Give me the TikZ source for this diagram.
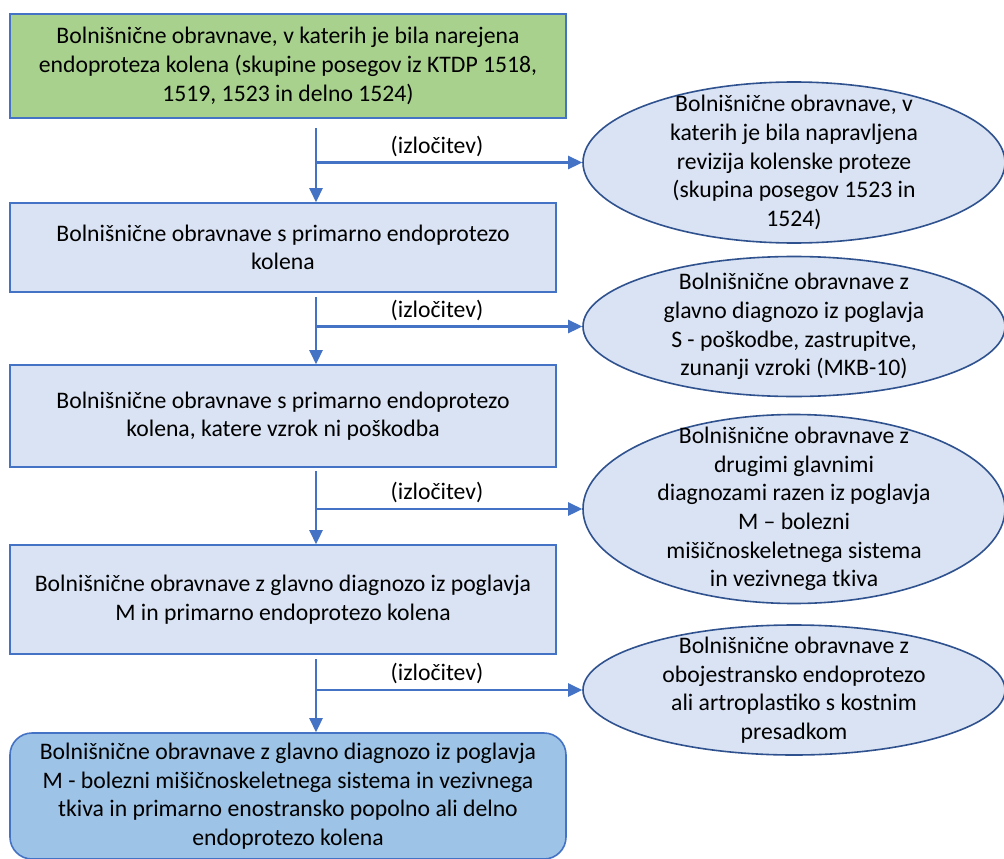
\documentclass[tikz,border=0pt]{standalone}
\usepackage{fontspec}
\setmainfont{Carlito}
\usetikzlibrary{shapes.geometric,arrows.meta}
\definecolor{accent}{HTML}{4472C4}
\definecolor{darkacc}{HTML}{2F528F}
\definecolor{boxfill}{HTML}{DAE3F3}
\definecolor{greenfill}{HTML}{A9D18E}
\definecolor{endfill}{HTML}{9DC3E6}
\tikzset{
  txt/.style={font=\fontsize{23.7}{28.6}\selectfont, align=center, text=black},
  stepbox/.style={draw=accent, line width=1.6pt, fill=boxfill, rectangle, inner sep=0pt, txt},
  ell/.style={draw=darkacc, line width=1.6pt, fill=boxfill, ellipse, inner sep=0pt, minimum width=422pt},
  arr/.style={draw=accent, line width=2.6pt, -{Triangle[length=14pt,width=13pt]}},
  lbl/.style={txt, inner sep=0pt}
}
\begin{document}
\begin{tikzpicture}[x=1pt,y=-1pt]
\useasboundingbox (0,0) rectangle (1004,859);
\fill[white] (0,0) rectangle (1004,859);

% boxes
\node[stepbox, fill=greenfill, minimum width=556pt, minimum height=104pt] (b1) at (288,66)
  {Bolnišnične obravnave, v katerih je bila narejena\\endoproteza kolena (skupine posegov iz KTDP 1518,\\1519, 1523 in delno 1524)};
\node[stepbox, minimum width=546pt, minimum height=89pt] (b2) at (283,247.5)
  {Bolnišnične obravnave s primarno endoprotezo\\kolena};
\node[stepbox, minimum width=546pt, minimum height=102pt] (b3) at (283,416)
  {Bolnišnične obravnave s primarno endoprotezo\\kolena, katere vzrok ni poškodba};
\node[stepbox, minimum width=546pt, minimum height=109pt] (b4) at (283,599.5)
  {Bolnišnične obravnave z glavno diagnozo iz poglavja\\M in primarno endoprotezo kolena};
\node[stepbox, fill=endfill, rounded corners=22pt, minimum width=556pt, minimum height=126pt] (b5) at (288,796)
  {Bolnišnične obravnave z glavno diagnozo iz poglavja\\M - bolezni mišičnoskeletnega sistema in vezivnega\\tkiva in primarno enostransko popolno ali delno\\endoprotezo kolena};

% ellipses
\node[ell, minimum height=161pt] (e1) at (794,162.5) {};
\node[lbl] at (e1.center) {Bolnišnične obravnave, v\\katerih je bila napravljena\\revizija kolenske proteze\\(skupina posegov 1523 in\\1524)};
\node[ell, minimum height=140pt] (e2) at (794,326.5) {};
\node[lbl] at (e2.center) {Bolnišnične obravnave z\\glavno diagnozo iz poglavja\\S - poškodbe, zastrupitve,\\zunanji vzroki (MKB-10)};
\node[ell, minimum height=189pt] (e3) at (794,509) {};
\node[lbl] at (e3.center) {Bolnišnične obravnave z\\drugimi glavnimi\\diagnozami razen iz poglavja\\M – bolezni\\mišičnoskeletnega sistema\\in vezivnega tkiva};
\node[ell, minimum height=130pt] (e4) at (794,690) {};
\node[lbl] at (e4.center) {Bolnišnične obravnave z\\obojestransko endoprotezo\\ali artroplastiko s kostnim\\presadkom};

% connectors
\coordinate (s1) at (316,128);
\coordinate (s2) at (316,297);
\coordinate (s3) at (316,471);
\coordinate (s4) at (316,659);
\foreach \s/\n/\e in {s1/b2/e1, s2/b3/e2, s3/b4/e3, s4/b5/e4}{
  \draw[arr] (\s) -- (\s |- \n.north);
  \draw[arr] (\s |- \e.west) -- (\e.west);
  \node[lbl, anchor=south] at ([xshift=121pt, yshift=6pt]\s |- \e.west) {(izločitev)};
}
\end{tikzpicture}
\end{document}
